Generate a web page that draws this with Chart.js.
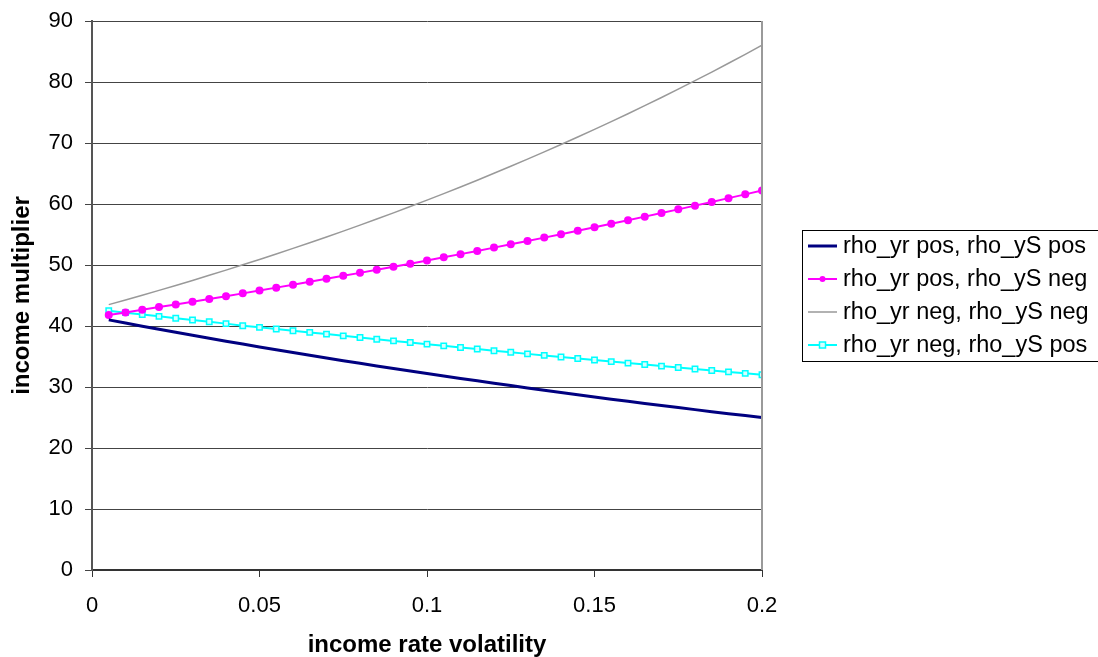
<!DOCTYPE html>
<html>
<head>
<meta charset="utf-8">
<title>income multiplier vs income rate volatility</title>
<script src="https://cdn.jsdelivr.net/npm/chart.js@4.4.1/dist/chart.umd.min.js"></script>
<style>
  html, body { margin: 0; padding: 0; background: #ffffff; }
  #wrap { width: 1098px; height: 657px; position: relative; }
  canvas { display: block; }
</style>
</head>
<body>
<div id="wrap"><canvas id="chart" width="1098" height="657"></canvas></div>
<script>
// income rate volatility (x)
const volatility = [
  0.005, 0.010, 0.015, 0.020, 0.025, 0.030, 0.035, 0.040, 0.045, 0.050,
  0.055, 0.060, 0.065, 0.070, 0.075, 0.080, 0.085, 0.090, 0.095, 0.100,
  0.105, 0.110, 0.115, 0.120, 0.125, 0.130, 0.135, 0.140, 0.145, 0.150,
  0.155, 0.160, 0.165, 0.170, 0.175, 0.180, 0.185, 0.190, 0.195, 0.200
];

// rho_yr pos, rho_yS pos
const posPos = [
  41.00, 40.48, 39.97, 39.47, 38.97, 38.48, 37.99, 37.51, 37.04, 36.57,
  36.11, 35.65, 35.20, 34.76, 34.32, 33.89, 33.46, 33.04, 32.62, 32.21,
  31.80, 31.40, 31.01, 30.62, 30.23, 29.85, 29.47, 29.10, 28.73, 28.37,
  28.01, 27.66, 27.31, 26.97, 26.63, 26.29, 25.96, 25.63, 25.31, 24.99
];

// rho_yr pos, rho_yS neg
const posNeg = [
  41.80, 42.23, 42.66, 43.10, 43.54, 43.99, 44.44, 44.89, 45.35, 45.82,
  46.29, 46.76, 47.24, 47.73, 48.22, 48.71, 49.21, 49.71, 50.22, 50.74,
  51.26, 51.78, 52.31, 52.85, 53.39, 53.94, 54.49, 55.05, 55.61, 56.18,
  56.76, 57.34, 57.93, 58.52, 59.12, 59.73, 60.34, 60.96, 61.58, 62.21
];

// rho_yr neg, rho_yS neg
const negNeg = [
  43.50, 44.27, 45.05, 45.84, 46.65, 47.47, 48.31, 49.16, 50.03, 50.91,
  51.81, 52.72, 53.65, 54.60, 55.56, 56.54, 57.54, 58.55, 59.58, 60.63,
  61.70, 62.79, 63.90, 65.03, 66.18, 67.35, 68.54, 69.75, 70.98, 72.23,
  73.50, 74.80, 76.12, 77.46, 78.83, 80.22, 81.63, 83.07, 84.54, 86.03
];

// rho_yr neg, rho_yS pos
const negPos = [
  42.50, 42.19, 41.89, 41.58, 41.28, 40.98, 40.69, 40.39, 40.05, 39.78,
  39.50, 39.22, 38.95, 38.67, 38.39, 38.11, 37.83, 37.56, 37.29, 37.02,
  36.75, 36.48, 36.22, 35.95, 35.69, 35.43, 35.18, 34.92, 34.67, 34.42,
  34.17, 33.92, 33.68, 33.43, 33.19, 32.95, 32.71, 32.47, 32.24, 32.00
];

const seriesNames = [
  'rho_yr pos, rho_yS pos',
  'rho_yr pos, rho_yS neg',
  'rho_yr neg, rho_yS neg',
  'rho_yr neg, rho_yS pos'
];

const xTickLabels = ['0', '0.05', '0.1', '0.15', '0.2'];
const yTickLabels = ['0', '10', '20', '30', '40', '50', '60', '70', '80', '90'];

const FONT = "'Liberation Sans', Arial, sans-serif";

function toPoints(ys) {
  return ys.map((y, i) => ({ x: volatility[i], y: y }));
}

// Boxed legend on the right, plus the light frame line on the right edge of the plot
const boxedLegend = {
  id: 'boxedLegend',
  afterDatasetsDraw(chart) {
    const { ctx, chartArea } = chart;
    ctx.save();
    ctx.strokeStyle = '#9a9a9a';
    ctx.lineWidth = 2;
    ctx.beginPath();
    ctx.moveTo(chartArea.right, chartArea.top);
    ctx.lineTo(chartArea.right, chartArea.bottom);
    ctx.stroke();
    ctx.restore();
  },
  afterDraw(chart) {
    const { ctx } = chart;
    const box = { left: 802.5, top: 230.5, right: 1100, bottom: 361.5 };
    const rowY = [246, 279, 312, 345];
    ctx.save();
    ctx.strokeStyle = '#000000';
    ctx.lineWidth = 1;
    ctx.strokeRect(box.left, box.top, box.right - box.left, box.bottom - box.top);
    ctx.font = '23.5px ' + FONT;
    ctx.textBaseline = 'middle';
    ctx.textAlign = 'left';
    chart.data.datasets.forEach((ds, i) => {
      const y = rowY[i];
      ctx.strokeStyle = ds.borderColor;
      ctx.lineWidth = ds.borderWidth;
      ctx.beginPath();
      ctx.moveTo(808, y);
      ctx.lineTo(837, y);
      ctx.stroke();
      if (ds.pointRadius > 0) {
        const cx = 822.5;
        if (ds.pointStyle === 'rect') {
          ctx.fillStyle = ds.pointBackgroundColor;
          ctx.strokeStyle = ds.pointBorderColor;
          ctx.lineWidth = 1.5;
          ctx.fillRect(cx - 3, y - 3, 6, 6);
          ctx.strokeRect(cx - 3, y - 3, 6, 6);
        } else {
          ctx.fillStyle = ds.pointBackgroundColor;
          ctx.beginPath();
          ctx.arc(cx, y, 3, 0, Math.PI * 2);
          ctx.fill();
        }
      }
      ctx.fillStyle = '#000000';
      ctx.fillText(ds.label, 843, y + 1);
    });
    ctx.restore();
  }
};

const ctx = document.getElementById('chart').getContext('2d');
new Chart(ctx, {
  type: 'line',
  data: {
    datasets: [
      {
        label: seriesNames[0],
        data: toPoints(posPos),
        borderColor: '#000080',
        backgroundColor: '#000080',
        borderWidth: 3,
        pointRadius: 0,
        tension: 0
      },
      {
        label: seriesNames[1],
        data: toPoints(posNeg),
        borderColor: '#ff00ff',
        backgroundColor: '#ff00ff',
        pointBackgroundColor: '#ff00ff',
        pointBorderColor: '#ff00ff',
        borderWidth: 2,
        pointStyle: 'circle',
        pointRadius: 4,
        pointBorderWidth: 0,
        tension: 0
      },
      {
        label: seriesNames[2],
        data: toPoints(negNeg),
        borderColor: '#999999',
        backgroundColor: '#999999',
        borderWidth: 1.5,
        pointRadius: 0,
        tension: 0
      },
      {
        label: seriesNames[3],
        data: toPoints(negPos),
        borderColor: '#00ffff',
        backgroundColor: '#00ffff',
        pointBackgroundColor: '#d8ffff',
        pointBorderColor: '#00ffff',
        borderWidth: 2,
        pointStyle: 'rect',
        pointRadius: 3.8,
        pointBorderWidth: 1.5,
        tension: 0
      }
    ]
  },
  options: {
    responsive: false,
    maintainAspectRatio: false,
    animation: false,
    devicePixelRatio: 1,
    layout: { padding: { left: 0, top: 21, right: 336, bottom: 0 } },
    plugins: {
      legend: { display: false },
      tooltip: { enabled: false },
      title: { display: false }
    },
    scales: {
      x: {
        type: 'linear',
        min: 0,
        max: 0.2,
        afterBuildTicks(scale) {
          scale.ticks = xTickLabels.map(t => ({ value: parseFloat(t) }));
        },
        afterFit(scale) {
          scale.height = 87;
          scale.paddingLeft = 0;
          scale.paddingRight = 0;
        },
        ticks: {
          color: '#000000',
          font: { family: FONT, size: 22 },
          padding: 16,
          maxRotation: 0,
          autoSkip: false,
          callback: (v, i) => xTickLabels[i]
        },
        grid: {
          drawOnChartArea: false,
          drawTicks: true,
          tickLength: 7,
          tickColor: '#333333',
          color: '#333333'
        },
        border: { display: true, color: '#333333', width: 2 },
        title: {
          display: true,
          text: 'income rate volatility',
          color: '#000000',
          font: { family: FONT, size: 24, weight: 'bold', lineHeight: 1.0 },
          padding: { top: 0, bottom: 0 }
        }
      },
      y: {
        min: 0,
        max: 90,
        afterBuildTicks(scale) {
          scale.ticks = yTickLabels.map(t => ({ value: parseFloat(t) }));
        },
        afterFit(scale) {
          scale.width = 92;
          scale.paddingTop = 0;
          scale.paddingBottom = 0;
        },
        ticks: {
          color: '#000000',
          font: { family: FONT, size: 22 },
          padding: 12,
          autoSkip: false,
          callback: (v, i) => yTickLabels[i]
        },
        grid: {
          color: '#444444',
          lineWidth: 1,
          drawTicks: true,
          tickLength: 7,
          tickColor: '#444444'
        },
        border: { display: true, color: '#555555', width: 2 },
        title: {
          display: true,
          text: 'income multiplier',
          color: '#000000',
          font: { family: FONT, size: 24, weight: 'bold' },
          padding: { top: 8, bottom: 0 }
        }
      }
    }
  },
  plugins: [boxedLegend]
});
</script>
</body>
</html>
